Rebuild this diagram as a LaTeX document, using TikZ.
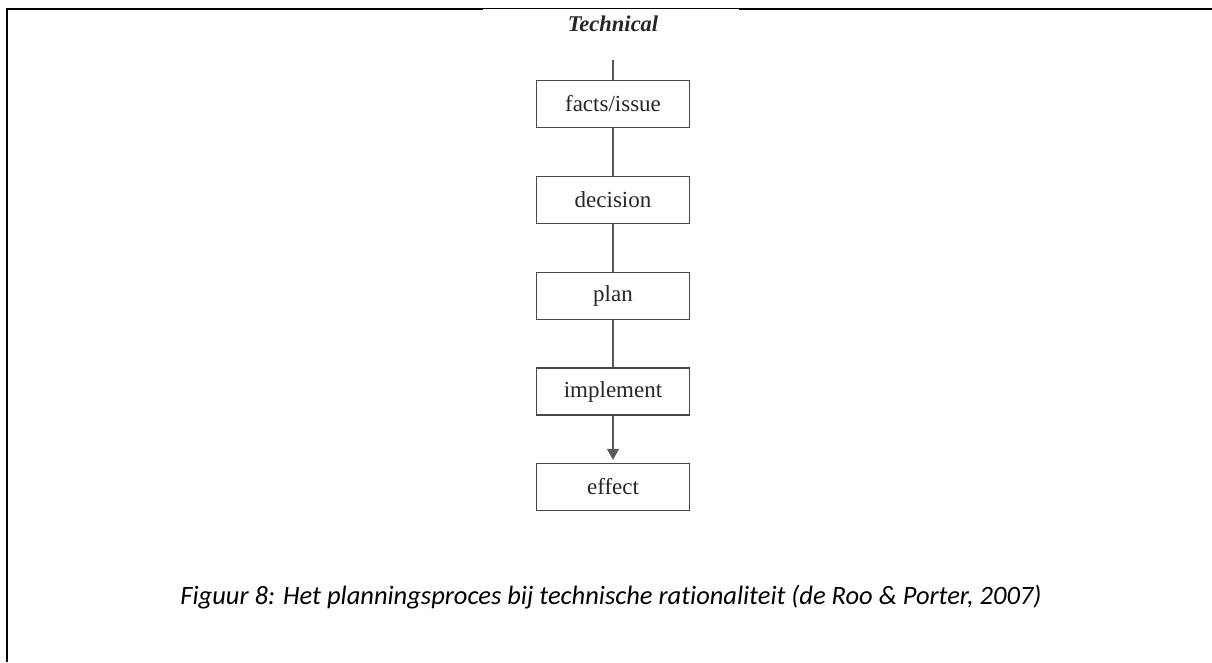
\documentclass[tikz,border=0pt]{standalone}
\usepackage{fontspec}
\setmainfont{Liberation Serif}
\newfontfamily\capfont[Ligatures={NoCommon}]{Carlito}
\usetikzlibrary{arrows.meta}

\begin{document}
\begin{tikzpicture}[x=1pt,y=-1pt,
  stepbox/.style={draw=black!72, line width=1.3pt, minimum width=153pt,
    minimum height=47pt, inner sep=0pt, text=black!85,
    font=\fontsize{23}{27}\selectfont},
  link/.style={draw=black!65, line width=1.1pt},
  frameline/.style={line width=2.8pt, black},
]
\useasboundingbox (0,0) rectangle (1212,662);

% frame round the figure
\draw[frameline] (7,662) -- (7,9) -- (483,9);
\draw[black, line width=0.9pt] (483,8) -- (739,8);
\draw[frameline] (739,9) -- (1212,9);

% heading and flow of steps
\node[font=\fontsize{22.5}{26}\selectfont\bfseries\itshape, text=black!85] (title) at (613,24) {Technical};
\coordinate (stub) at (613,60);

\node[stepbox] (facts) at (613,104) {facts/issue};
\node[stepbox] (decision) at (613,200) {decision};
\node[stepbox] (plan) at (613,296) {plan};
\node[stepbox] (implement) at (613,391.5) {implement};
\node[stepbox] (effect) at (613,487) {effect};

\draw[link] (stub) -- (facts.north);
\draw[link] (facts) -- (decision);
\draw[link] (decision) -- (plan);
\draw[link] (plan) -- (implement);
\draw[link, -{Triangle[length=11pt,width=12pt]}, shorten >=3pt] (implement) -- (effect);

% caption
\node[font=\capfont\itshape\fontsize{26.5}{30}\selectfont] (caption) at (611,597)
  {Figuur 8: Het planningsproces bij technische rationaliteit (de Roo \& Porter, 2007)};
\end{tikzpicture}
\end{document}
